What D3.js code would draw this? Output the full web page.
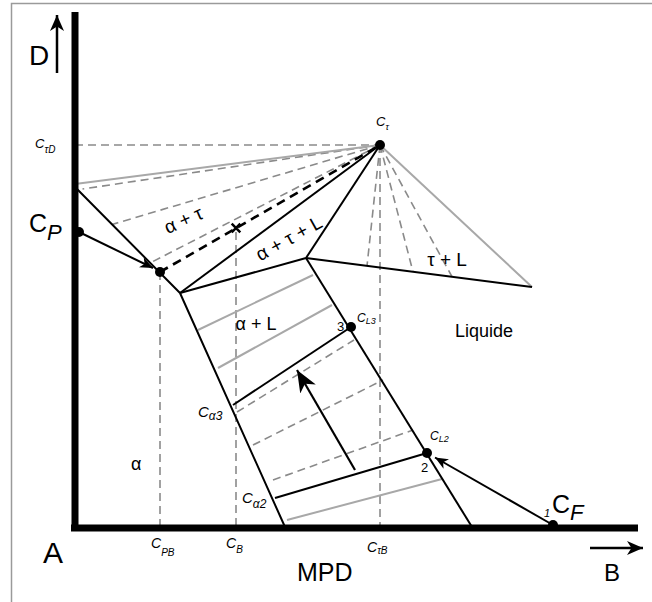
<!DOCTYPE html>
<html><head><meta charset="utf-8">
<script src="https://cdn.jsdelivr.net/npm/d3@7"></script>
<style>
html,body{margin:0;padding:0;background:#fff;}
svg{display:block;font-family:"Liberation Sans",Arial,Helvetica,sans-serif;}
</style></head>
<body>
<svg id="chart" width="652" height="602"></svg>
<script>
// ---- data (composition units: x = % B, y = % D) ----
const pointCtau = [61, 76.4];
const pointCP = [0.8, 59];
const pointP1 = [17, 51];
const pointPer = [46.2, 53.8];
const pointE = [21, 46.8];
const pointCL3 = [55.2, 40];
const pointCL2 = [70.4, 14.8];
const pointCF = [95.6, 0.4];
const pointStar = [32.2, 59.8];

const solidusLine = [[0, 68], pointE, [42, 0]];
const liquidusLine = [pointPer, [79.4, 0]];
const blackBoundaries = [
  [pointE, pointPer],
  [pointE, pointCtau],
  [pointPer, pointCtau],
  [pointPer, [91.4, 48]]
];
const graySolidBoundaries = [
  [[0, 68.6], pointCtau],
  [pointCtau, [91.4, 48]]
];
const leftFanEnds = [[1.5, 67.6], [7.4, 60.5], [15, 52.8]];
const rightFanEnds = [[58.4, 52.2], [67.6, 51.05], [75.4, 50.05]];
const grayTies = [
  [[24.6, 39.4], [47.6, 50.4]],
  [[28.6, 31.8], [51.4, 44.4]],
  [[42.4, 1.4], [73.4, 9.6]]
];
const blackTies = [
  [[31.6, 24.4], pointCL3],
  [[40, 5.8], pointCL2]
];
const dashedTies = [
  [[32.4, 23], [55.8, 37.4]],
  [[35.6, 16.4], [61.6, 29.4]],
  [[39.6, 9.4], [67.6, 19.4]]
];
const verticalGuides = [[17, 51], [32.2, 59], [61, 76.4]];
const horizontalGuide = [[0, 76.4], pointCtau];
const dots = [pointCP, pointP1, pointCtau, pointCL3, pointCL2, pointCF];
const smallArrows = [
  [pointCP, [15.6, 51.8]],
  [pointCF, [72, 13.9]]
];
const bigArrow = [[56, 11.4], [44.4, 31.4]];

// ---- scales ----
const x = d3.scaleLinear().domain([0, 100]).range([75, 575]);
const y = d3.scaleLinear().domain([0, 100]).range([527, 27]);
const line = d3.line().x(d => x(d[0])).y(d => y(d[1]));

const svg = d3.select("#chart");
const defs = svg.append("defs");
function marker(id, len, half) {
  defs.append("marker").attr("id", id)
    .attr("markerUnits", "userSpaceOnUse")
    .attr("viewBox", `${-len} ${-half} ${len + 1} ${half * 2}`)
    .attr("refX", 0).attr("refY", 0)
    .attr("markerWidth", len + 1).attr("markerHeight", half * 2)
    .attr("orient", "auto")
    .append("path")
    .attr("d", `M0,0 L${-len},${-half} L${-len * 0.72},0 L${-len},${half} Z`)
    .attr("fill", "#000");
}
marker("ah", 13, 5.5);
marker("ahBig", 22, 9);
marker("ahAxis", 16, 7);

// frame
svg.append("rect").attr("x", 11.5).attr("y", 3.5).attr("width", 700).attr("height", 700)
  .attr("fill", "none").attr("stroke", "#9a9a9a").attr("stroke-width", 1.5);

const g = svg.append("g");

// dashed guides
const guideStyle = s => s.attr("fill", "none").attr("stroke", "#8a8a8a").attr("stroke-width", 1.6).attr("stroke-dasharray", "8,5");
verticalGuides.forEach(p => {
  g.append("path").attr("d", line([p, [p[0], 0]])).call(guideStyle);
});
g.append("path").attr("d", line(horizontalGuide)).call(guideStyle);

// fans
leftFanEnds.concat(rightFanEnds).forEach(p => {
  g.append("path").attr("d", line([pointCtau, p])).call(guideStyle);
});
dashedTies.forEach(t => g.append("path").attr("d", line(t)).call(guideStyle));

// gray solid
graySolidBoundaries.concat(grayTies).forEach(t => {
  g.append("path").attr("d", line(t)).attr("fill", "none")
    .attr("stroke", "#a8a8a8").attr("stroke-width", 2);
});

// black dashed
g.append("path").attr("d", line([pointP1, pointCtau])).attr("fill", "none")
  .attr("stroke", "#000").attr("stroke-width", 2.6).attr("stroke-dasharray", "9,6");

// black boundaries
[solidusLine, liquidusLine].concat(blackBoundaries, blackTies).forEach(t => {
  g.append("path").attr("d", line(t)).attr("fill", "none")
    .attr("stroke", "#000").attr("stroke-width", 2).attr("stroke-linejoin", "round");
});

// arrows
smallArrows.forEach(a => {
  g.append("path").attr("d", line(a)).attr("fill", "none").attr("stroke", "#000")
    .attr("stroke-width", 2).attr("marker-end", "url(#ah)");
});
g.append("path").attr("d", line(bigArrow)).attr("fill", "none").attr("stroke", "#000")
  .attr("stroke-width", 2.2).attr("marker-end", "url(#ahBig)");

// star
g.append("path").attr("d", d3.symbol(d3.symbolTimes, 50)())
  .attr("transform", `translate(${x(pointStar[0])},${y(pointStar[1])})`)
  .attr("fill", "none").attr("stroke", "#000").attr("stroke-width", 2.5);

// axes
g.append("line").attr("x1", x(0)).attr("x2", x(0)).attr("y1", 12).attr("y2", 530)
  .attr("stroke", "#000").attr("stroke-width", 7);
g.append("line").attr("x1", 71).attr("x2", 638).attr("y1", y(0) + 1).attr("y2", y(0) + 1)
  .attr("stroke", "#000").attr("stroke-width", 7);
g.append("line").attr("x1", 57).attr("x2", 57).attr("y1", 73).attr("y2", 15)
  .attr("stroke", "#000").attr("stroke-width", 2.5).attr("marker-end", "url(#ahAxis)");
g.append("line").attr("x1", 590).attr("x2", 643).attr("y1", 548).attr("y2", 548)
  .attr("stroke", "#000").attr("stroke-width", 2.5).attr("marker-end", "url(#ahAxis)");

// dots
g.selectAll("circle.dot").data(dots).join("circle").attr("class", "dot")
  .attr("cx", d => x(d[0])).attr("cy", d => y(d[1])).attr("r", 5).attr("fill", "#000");

// ---- text ----
function label(px, py, main, sub, size, opts = {}) {
  const t = svg.append("text").attr("x", px).attr("y", py)
    .attr("font-size", size).attr("fill", "#000")
    .attr("text-anchor", opts.anchor || "start");
  if (opts.italic) t.attr("font-style", "italic");
  if (opts.rotate) t.attr("transform", `rotate(${opts.rotate},${px},${py})`);
  t.append("tspan").text(main);
  if (sub) {
    const s = t.append("tspan").attr("dy", opts.subDy || size * 0.35)
      .attr("font-size", opts.subSize || size * 0.7).text(sub);
    if (opts.subItalic) s.attr("font-style", "italic");
  }
  return t;
}
label(29, 65, "D", null, 28);
label(43, 563, "A", null, 30);
label(297, 581, "MPD", null, 25);
label(604, 581, "B", null, 24);

label(35, 148, "C", "τD", 13, {italic: true, subSize: 10, subDy: 5});
label(29, 232, "C", "P", 25, {subSize: 22, subDy: 8, subItalic: true});
label(151, 548, "C", "PB", 14, {italic: true, subSize: 10, subDy: 8});
label(226, 548, "C", "B", 14, {italic: true, subSize: 10, subDy: 5});
label(367, 552, "C", "τB", 14, {italic: true, subSize: 10, subDy: 2});
label(376, 126, "C", "τ", 13, {italic: true, subSize: 9, subDy: 4});
label(357, 322, "C", "L3", 12, {italic: true, subSize: 9, subDy: 2});
label(430, 440, "C", "L2", 12, {italic: true, subSize: 9, subDy: 2});
label(337, 331, "3", null, 13);
label(421, 472, "2", null, 13);
label(198, 417, "C", "α3", 15, {italic: true, subSize: 12, subDy: 3});
label(242, 503, "C", "α2", 15, {italic: true, subSize: 12, subDy: 5});
label(544, 517, "1", null, 11, {italic: true});
label(552, 513, "C", "F", 25, {subSize: 22, subDy: 7, subItalic: true});

label(131, 470, "α", null, 18);
label(256, 330, "α + L", null, 18, {anchor: "middle"});
label(186, 226, "α + τ", null, 19, {anchor: "middle", rotate: -24});
label(292, 244, "α + τ + L", null, 19, {anchor: "middle", rotate: -29});
label(447, 266, "τ + L", null, 19, {anchor: "middle"});
label(455, 337, "Liquide", null, 18);
</script>
</body></html>
